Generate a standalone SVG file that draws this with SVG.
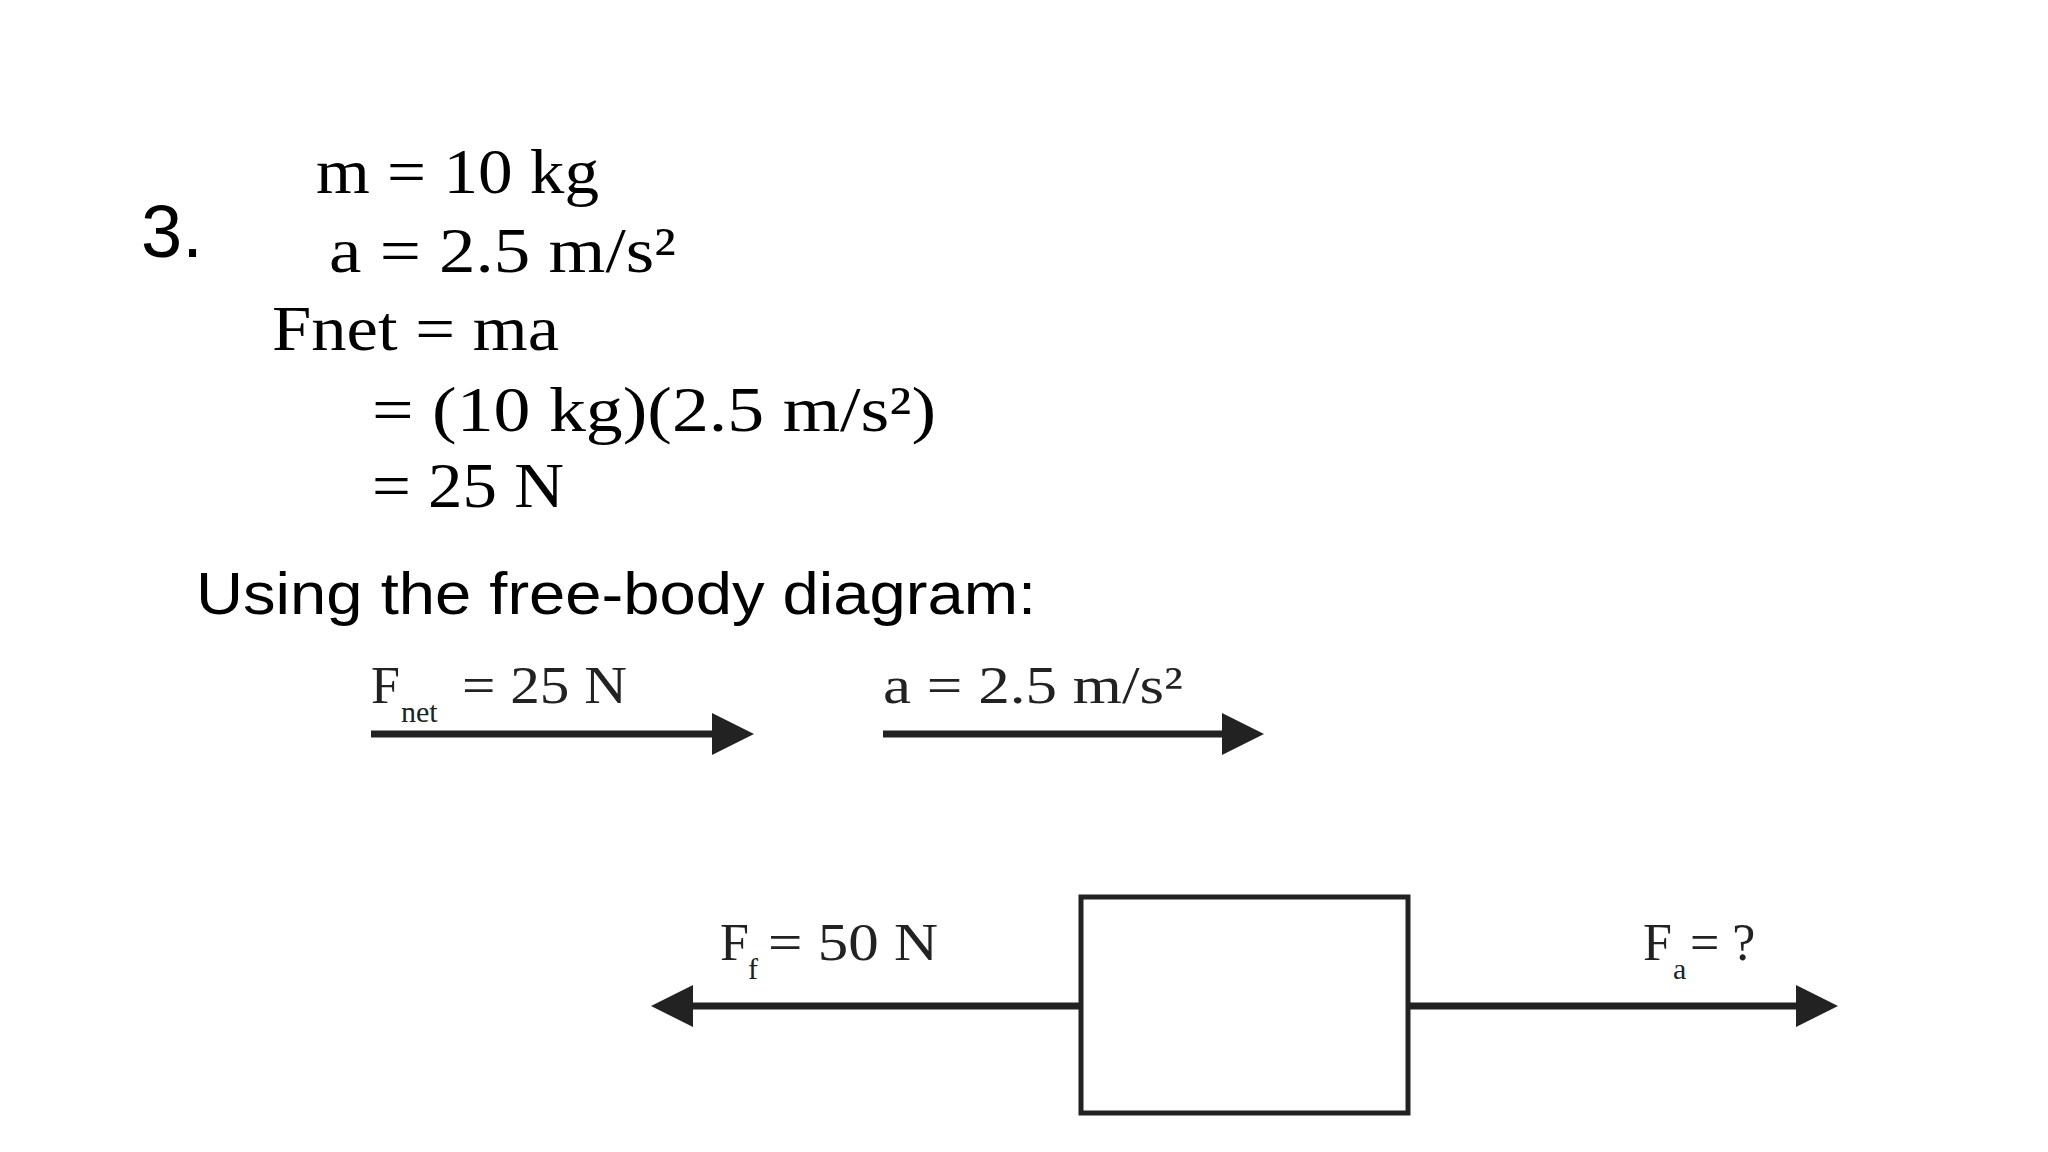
<svg xmlns="http://www.w3.org/2000/svg" width="2048" height="1152" viewBox="0 0 2048 1152">
<style>
.m{font-family:"Liberation Serif","DejaVu Serif",serif;font-size:64px;fill:#000}
.s{font-family:"Liberation Sans",Arial,sans-serif;fill:#000}
.f{font-family:"Liberation Serif",serif;font-size:52px;fill:#222}
.sub{font-family:"Liberation Serif",serif;font-size:30px;fill:#222}
.ln{stroke:#222;stroke-width:7;fill:none}
</style>
<defs><marker id="ah" markerWidth="6" markerHeight="6" refX="0" refY="3" orient="auto" markerUnits="strokeWidth"><path d="M0,0 L6,3 L0,6 Z" fill="#222"/></marker></defs>
<rect width="2048" height="1152" fill="#fff"/>
<g id="text">
<text class="s" x="141" y="257" font-size="74">3.</text>
<text class="m" x="316" y="193" textLength="283" lengthAdjust="spacingAndGlyphs">m = 10 kg</text>
<text class="m" x="329" y="272" textLength="347" lengthAdjust="spacingAndGlyphs">a = 2.5 m/s²</text>
<text class="m" x="272" y="350" textLength="287" lengthAdjust="spacingAndGlyphs">Fnet = ma</text>
<text class="m" x="372" y="431" textLength="564" lengthAdjust="spacingAndGlyphs">= (10 kg)(2.5 m/s²)</text>
<text class="m" x="372" y="507" textLength="192" lengthAdjust="spacingAndGlyphs">= 25 N</text>
<text class="s" x="196" y="614" font-size="60" textLength="840" lengthAdjust="spacingAndGlyphs">Using the free-body diagram:</text>
<text class="f" x="371" y="703">F</text><text class="sub" x="401" y="722">net</text><text class="f" x="462" y="703" textLength="165" lengthAdjust="spacingAndGlyphs">= 25 N</text>
<text class="f" x="883" y="703" textLength="300" lengthAdjust="spacingAndGlyphs">a = 2.5 m/s²</text>
<text class="f" x="720" y="960">F</text><text class="sub" x="748" y="979">f</text><text class="f" x="768" y="960" textLength="170" lengthAdjust="spacingAndGlyphs">= 50 N</text>
<text class="f" x="1643" y="960">F</text><text class="sub" x="1673" y="979">a</text><text class="f" x="1690" y="960">= ?</text>
</g>
<g id="box"><rect x="1081" y="897" width="327" height="216" fill="none" stroke="#222" stroke-width="5"/></g>
<g id="connectors">
<line class="ln" x1="371" y1="734" x2="712" y2="734" marker-end="url(#ah)"/>
<line class="ln" x1="883" y1="734" x2="1222" y2="734" marker-end="url(#ah)"/>
<line class="ln" x1="1081" y1="1006" x2="693" y2="1006" marker-end="url(#ah)"/>
<line class="ln" x1="1408" y1="1006" x2="1796" y2="1006" marker-end="url(#ah)"/>
</g>
</svg>
